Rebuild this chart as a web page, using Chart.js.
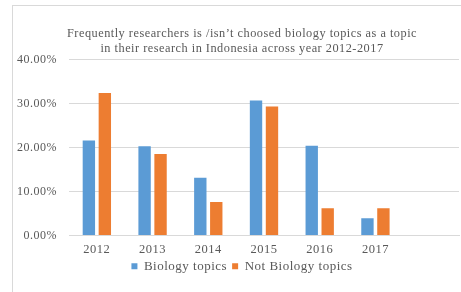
<!DOCTYPE html>
<html>
<head>
<meta charset="utf-8">
<script src="https://cdn.jsdelivr.net/npm/chart.js@4/dist/chart.umd.min.js"></script>
<style>
  html, body { margin: 0; padding: 0; background: #fff; overflow: hidden; }
  .frame {
    position: absolute; left: 12px; top: 5px;
    width: 460px; height: 300px;
    border-left: 1px solid #d9d9d9; border-top: 1px solid #d9d9d9;
  }
  canvas { position: absolute; left: 0; top: 0; display: block; }
</style>
</head>
<body>
<div class="frame"></div>
<canvas id="chart" width="472" height="292"></canvas>
<script>
/* ---- Data ---- */
const years = ["2012", "2013", "2014", "2015", "2016", "2017", ""];
const biology = [0.216, 0.203, 0.131, 0.307, 0.204, 0.039, null];
const notBiology = [0.324, 0.185, 0.076, 0.293, 0.062, 0.062, null];
const titleLines = [
  "Frequently researchers is /isn\u2019t choosed biology topics as a topic",
  "in their research in Indonesia across year 2012-2017",
];

const serif = "'Liberation Serif', 'Times New Roman', serif";
const textGray = "#595959";
const gridGray = "#d9d9d9";

// the source text is set a little loose, so widen the canvas letter spacing
const spacing = {
  id: "spacing",
  beforeUpdate: (chart) => { chart.ctx.letterSpacing = "0.5px"; },
  beforeDraw: (chart) => { chart.ctx.letterSpacing = "0.5px"; },
};

new Chart(document.getElementById("chart"), {
  type: "bar",
  data: {
    labels: years,
    datasets: [
      {
        label: "Biology topics",
        data: biology,
        backgroundColor: "#5b9bd5",
        categoryPercentage: 0.573,
        barPercentage: 0.775,
      },
      {
        label: "Not Biology topics",
        data: notBiology,
        backgroundColor: "#ed7d31",
        categoryPercentage: 0.573,
        barPercentage: 0.775,
      },
    ],
  },
  plugins: [spacing],
  options: {
    responsive: false,
    animation: false,
    devicePixelRatio: 1,
    layout: { padding: { left: 13, right: 1, top: 0, bottom: 9.3 } },
    scales: {
      x: {
        afterFit: (s) => { s.height = 19.2; },
        grid: { display: false, drawTicks: false },
        border: { color: gridGray, width: 1 },
        ticks: {
          color: textGray,
          font: { family: serif, size: 12.5, lineHeight: 0.75 },
          padding: 10,
        },
      },
      y: {
        min: 0,
        max: 0.4,
        afterFit: (s) => { s.width = 56; },
        grid: { color: gridGray, drawTicks: false },
        border: { display: false },
        ticks: {
          stepSize: 0.1,
          padding: 12,
          color: textGray,
          font: { family: serif, size: 12 },
          callback: (v) => `${(v * 100).toFixed(2)}%`,
        },
      },
      // empty right-hand strip, keeps the title centred where the source has it
      y2: {
        position: "right",
        afterFit: (s) => { s.width = 12; },
        grid: { display: false },
        border: { display: false },
        ticks: { display: false },
      },
    },
    plugins: {
      tooltip: { enabled: false },
      title: {
        display: true,
        text: titleLines,
        color: textGray,
        font: { family: serif, size: 12.3, weight: "normal", lineHeight: 1.22 },
        padding: { top: 26, bottom: 3.5 },
      },
      legend: {
        position: "bottom",
        labels: {
          boxWidth: 6,
          boxHeight: 6,
          padding: 5,
          color: textGray,
          font: { family: serif, size: 13 },
        },
      },
    },
  },
});
</script>
</body>
</html>
